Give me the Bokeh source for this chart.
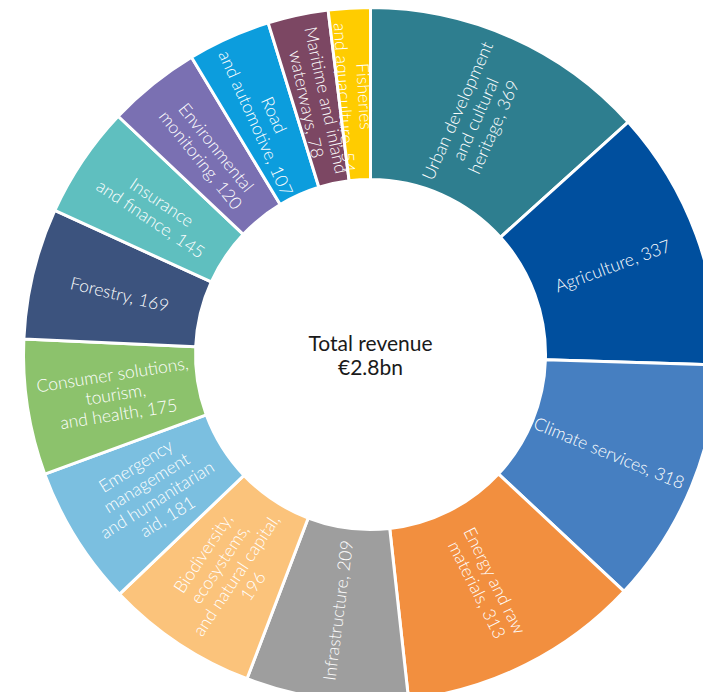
import numpy as np
from bokeh.plotting import figure
from bokeh.models import ColumnDataSource, Range1d
from bokeh.core.properties import value
from bokeh.embed import file_html
from bokeh.resources import INLINE

categories = [
    "Urban development\nand cultural\nheritage, 369",
    "Agriculture, 337",
    "Climate services, 318",
    "Energy and raw\nmaterials, 313",
    "Infrastructure, 209",
    "Biodiversity,\necosystems,\nand natural capital,\n196",
    "Emergency\nmanagement\nand humanitarian\naid, 181",
    "Consumer solutions,\ntourism,\nand health, 175",
    "Forestry, 169",
    "Insurance\nand finance, 145",
    "Environmental\nmonitoring, 120",
    "Road\nand automotive, 107",
    "Maritime and inland\nwaterways, 78",
    "Fisheries\nand aquaculture, 54",
]
revenue = [369, 337, 318, 313, 209, 196, 181, 175, 169, 145, 120, 107, 78, 54]
colors = ["#2E7E8F", "#004F9E", "#467FC1", "#F28F3F", "#9E9E9E", "#FBC37B", "#7BBFE0",
          "#8CC26C", "#3C537E", "#5FBFBF", "#7A70B2", "#0C9DDD", "#7C4763", "#FFCC00"]
center_label = "Total revenue\n€2.8bn"

W, H = 703, 692
CX, CY = 370, 354
R_OUT, R_IN = 347, 175
R_LBL = 258

vals = np.array(revenue, dtype=float)
frac = vals / vals.sum()
cum_end = np.cumsum(frac)
cum_start = cum_end - frac
start = np.pi / 2 - cum_start * 2 * np.pi
end = np.pi / 2 - cum_end * 2 * np.pi
mid = (start + end) / 2
rot = mid.copy()
rot = np.where(rot <= -np.pi / 2, rot + np.pi, rot)
rot = np.where(rot > np.pi / 2, rot - np.pi, rot)

src = ColumnDataSource(dict(
    start=start, end=end, color=colors, label=categories,
    lx=R_LBL * np.cos(mid), ly=R_LBL * np.sin(mid), rot=rot,
))

p = figure(width=W, height=H, output_backend="svg", toolbar_location=None,
           x_range=Range1d(-CX, W - CX), y_range=Range1d(-(H - CY), CY),
           x_axis_type=None, y_axis_type=None, min_border=0)
p.grid.visible = False
p.outline_line_color = None
p.background_fill_color = "white"

p.annular_wedge(x=0, y=0, inner_radius=R_IN, outer_radius=R_OUT,
                start_angle="start", end_angle="end", direction="clock",
                fill_color="color", line_color="white", line_width=3, source=src)

FONT = value("'Lato Light', Lato")

p.text(x="lx", y="ly", text="label", angle="rot", source=src,
       text_color="white", text_font=FONT, text_font_size="17.5px",
       text_align="center", text_baseline="middle", text_line_height=0.95)

p.text(x=[0], y=[0], text=[center_label], text_color="#1a1a1a",
       text_font=value("Lato"), text_font_size="21px",
       text_align="center", text_baseline="middle", text_line_height=0.95)

open("out.html", "w").write(file_html(p, INLINE))
